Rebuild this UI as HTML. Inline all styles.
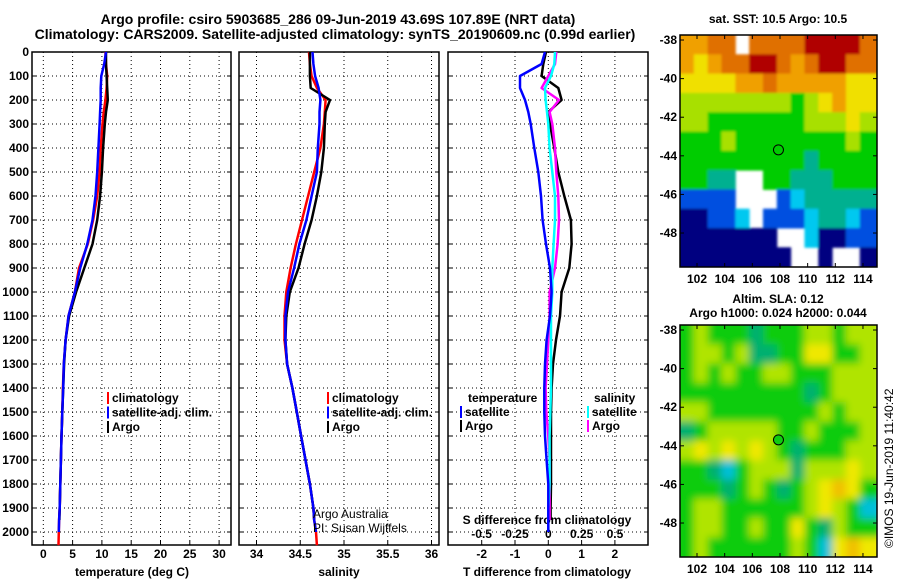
<!DOCTYPE html>
<html><head><meta charset="utf-8"><style>
html,body{margin:0;padding:0;background:#fff;}
svg{display:block;font-family:"Liberation Sans",Arial,sans-serif;font-weight:bold;}
text{font-size:12px;fill:#000;}
</style></head><body>
<svg id="fig" width="900" height="580" viewBox="0 0 900 580" xmlns="http://www.w3.org/2000/svg">
<defs>
<filter id="blur" x="-5%" y="-5%" width="110%" height="110%"><feGaussianBlur stdDeviation="4"/></filter>
<filter id="blur2" x="-5%" y="-5%" width="110%" height="110%"><feGaussianBlur stdDeviation="1.2"/></filter>
<clipPath id="clip1"><rect x="680" y="35" width="197" height="232"/></clipPath>
<clipPath id="clip2"><rect x="680" y="325" width="197" height="232"/></clipPath>
</defs>
<text x="338" y="24" text-anchor="middle" style="font-size:14px">Argo profile: csiro 5903685_286 09-Jun-2019 43.69S 107.89E (NRT data)</text>
<text x="335" y="39" text-anchor="middle" style="font-size:14px">Climatology: CARS2009. Satellite-adjusted climatology: synTS_20190609.nc (0.99d earlier)</text>
<text x="778" y="23" text-anchor="middle">sat. SST: 10.5 Argo: 10.5</text>
<text x="778" y="303" text-anchor="middle">Altim. SLA: 0.12</text>
<text x="778" y="317" text-anchor="middle">Argo h1000: 0.024 h2000: 0.044</text>
<text transform="translate(893,548) rotate(-90)" style="font-weight:normal;font-size:12px">©IMOS 19-Jun-2019 11:40:42</text>
<g id="g"></g>
</svg>
<script>
// ---- data ----
const depths=[0,50,100,150,200,250,300,400,500,600,700,800,900,1000,1100,1200,1300,1400,1500,1600,1700,1800,1900,1950,2000,2055];
const tempArgo=[10.7,10.7,10.8,10.9,11.0,10.7,10.5,10.2,10.0,9.7,9.2,8.4,7.0,5.6,4.4,3.8,3.55,3.4,3.25,3.1,3.0,2.9,2.8,2.75,null,null];
const tempClim=[10.6,10.7,10.9,10.8,10.6,10.3,10.1,9.8,9.6,9.2,8.5,7.6,6.1,5.4,4.3,3.8,3.5,3.35,3.25,3.1,3.0,2.9,2.8,2.7,2.65,2.6];
const tempSat=[10.7,10.4,9.9,9.8,9.8,9.7,9.6,9.4,9.2,8.9,8.4,7.5,6.3,5.4,4.3,3.8,3.5,3.4,3.25,3.1,3.0,2.9,2.8,2.7,2.65,null];
const salArgo=[34.61,34.61,34.61,34.62,34.84,34.79,34.78,34.77,34.74,34.69,34.63,34.55,34.48,34.38,34.34,34.33,34.35,34.41,34.46,34.51,34.56,34.61,34.65,34.66,null,null];
const salClim=[34.60,34.61,34.63,34.69,34.79,34.78,34.77,34.73,34.66,34.59,34.52,34.45,34.39,34.34,34.32,34.32,34.35,34.41,34.46,34.51,34.56,34.61,34.65,34.66,34.68,34.69];
const salSat=[34.64,34.65,34.67,34.71,34.73,34.72,34.72,34.70,34.69,34.63,34.57,34.49,34.43,34.36,34.33,34.33,34.35,34.41,34.46,34.51,34.56,34.61,34.65,34.66,34.68,null];
const dTArgo=[-0.07,-0.15,-0.2,0.3,0.4,0.0,0.05,0.18,0.3,0.48,0.68,0.7,0.63,0.4,0.35,0.23,0.14,0.1,0.08,0.08,0.08,0.08,0.07,0.07,null,null];
const dTSat=[-0.1,-0.2,-0.85,-0.85,-0.7,-0.6,-0.53,-0.42,-0.3,-0.22,-0.17,-0.07,0.05,0.1,0.05,-0.05,-0.1,-0.12,-0.12,-0.1,-0.05,0,0,0,0,null];
const dSArgo=[0.06,0.05,0.0,-0.05,0.08,0.01,0.03,0.05,0.06,0.075,0.08,0.07,0.05,0.01,0.01,0,-0.01,-0.02,-0.015,0.0,0.01,0.01,0.01,0.01,null,null];
const dSSat=[0.05,0.045,0.02,-0.025,-0.02,-0.01,0,0.01,0.03,0.05,0.05,0.04,0.03,0.03,0.02,0.02,0.02,0.02,0.015,0.01,0.01,0.01,0.0,0.0,0.0,null];
const depthTicks=[0,100,200,300,400,500,600,700,800,900,1000,1100,1200,1300,1400,1500,1600,1700,1800,1900,2000];
const tempTicks=[0,5,10,15,20,25,30];
const salTicks=[34,34.5,35,35.5,36];
const salTickLabels=["34","34.5","35","35.5","36"];
const dTTicks=[-2,-1,0,1,2];
const dSTicks=[-0.5,-0.25,0,0.25,0.5];
const dSTickLabels=["-0.5","-0.25","0","0.25","0.5"];
const latTicks=[-38,-40,-42,-44,-46,-48];
const lonTicks=[102,104,106,108,110,112,114];
const argoLon=107.89, argoLat=-43.69;
// SST map: level codes (-1 = no data), rows from north (-37.74) to south, 1 deg each, cols from 100.77E
const sstGrid=[
[7,7,8,8,-1,8,8,8,8,9,9,9,9,8],
[7,6,7,8,8,9,9,8,7,8,9,9,8,8],
[6,6,6,6,7,7,8,7,7,7,7,7,6,6],
[5,5,5,5,5,5,5,5,4,5,6,7,6,6],
[5,5,4,4,4,4,4,4,4,5,5,5,6,5],
[4,4,4,5,4,4,4,4,4,4,4,4,5,4],
[4,4,4,4,4,4,4,4,4,3,4,4,4,4],
[4,4,3,3,-1,-1,4,4,3,3,3,4,4,4],
[1,1,1,1,-1,-1,-1,1,2,3,3,3,3,3],
[0,0,1,1,2,-1,1,1,1,2,3,3,2,1],
[0,0,0,0,0,0,0,-1,-1,2,0,0,1,1],
[0,0,0,0,0,0,0,0,-1,-1,0,-1,-1,0]];
const slaGrid=[
[2,3,2,2,2,1,2,2,2,3,3,2,3,3],
[2,3,3,2,3,1,1,2,2,4,4,2,2,3],
[2,3,2,3,2,2,3,3,2,2,2,3,3,3],
[2,2,2,2,2,2,2,2,2,1,2,3,3,3],
[3,3,2,2,2,2,2,2,2,2,3,2,3,3],
[1,2,3,3,3,3,3,2,2,3,2,2,2,3],
[3,4,3,4,3,4,3,2,1,2,2,2,3,3],
[2,2,1,0,2,3,3,3,1,3,3,3,4,3],
[2,2,2,1,2,3,2,1,2,3,4,5,4,2],
[2,3,3,2,2,2,2,2,2,3,4,3,2,0],
[2,3,3,2,2,3,2,2,4,2,1,3,2,2],
[2,3,2,2,2,2,2,2,3,2,0,4,5,4]];
const sstColors=["#000080","#0050e0","#00c8f0","#00b090","#00cc00","#a8e000","#f0e000","#f0a000","#e07000","#b00000"];
const slaColors=["#00c0d8","#00b070","#10cc10","#b0e400","#f0e800","#f0c000"];

const NS="http://www.w3.org/2000/svg";
const G=document.getElementById('g');
function el(tag,attrs,parent){const e=document.createElementNS(NS,tag);for(const k in attrs)e.setAttribute(k,attrs[k]);(parent||G).appendChild(e);return e;}
function txt(x,y,s,anchor,parent,size){const t=el('text',{x:x,y:y,'text-anchor':anchor||'middle'},parent);if(size)t.style.fontSize=size+'px';t.textContent=s;return t;}

const plotTop=52,plotBot=545;
const yD=d=>plotTop+d*0.24;
const panels=[
 {l:32,r:231,x:v=>43.3+v*5.86,name:'temperature-panel'},
 {l:239,r:439,x:v=>256.5+(v-34)*87.5,name:'salinity-panel'},
 {l:448,r:648,x:v=>548.3+v*33.3,name:'difference-panel'}];
const xS=v=>548.3+v*133.3;

panels.forEach((p,i)=>{
  const g=el('g',{});
  
  
  depthTicks.forEach(d=>{
    const l=el('line',{x1:p.l,x2:p.r,y1:yD(d),y2:yD(d),stroke:'#000','stroke-width':1,'stroke-dasharray':'1,3'},g);
    
    
    el('line',{x1:p.l,x2:p.l+4,y1:yD(d),y2:yD(d),stroke:'#000'},g);
    el('line',{x1:p.r-4,x2:p.r,y1:yD(d),y2:yD(d),stroke:'#000'},g);
  });
  const xt=i==0?tempTicks:(i==1?salTicks:dTTicks);
  xt.forEach((v,k)=>{
    const x=p.x(v);
    const l=el('line',{x1:x,x2:x,y1:plotTop,y2:plotBot,stroke:'#000','stroke-dasharray':'1,3'},g);
    
    
    el('line',{x1:x,x2:x,y1:plotBot-4,y2:plotBot,stroke:'#000'},g);
    const lab=i==1?salTickLabels[k]:String(v);
    const t=txt(x,558,lab,'middle',g);
    
    
  });
  el('rect',{x:p.l,y:plotTop,width:p.r-p.l,height:plotBot-plotTop,fill:'none',stroke:'#000','stroke-width':1.5},g);
});
depthTicks.forEach(d=>{
  const t=txt(29,yD(d)+4,String(d),'end');
  
  
});
[[132,'temperature (deg C)','temperature-axis-title'],[339,'salinity','salinity-axis-title'],[547,'T difference from climatology','t-diff-axis-title']].forEach(a=>{
  const t=txt(a[0],576,a[1]);
  
  
});
let t=txt(547,524,'S difference from climatology');


dSTicks.forEach((v,k)=>{
  const tt=txt(xS(v),538,dSTickLabels[k]);
  
  
});

function series(vals,xf,color,name,w){
  let d='',pen=false;
  vals.forEach((v,k)=>{
    if(v===null||v===undefined){pen=false;return;}
    d+=(pen?'L':'M')+xf(v).toFixed(1)+','+yD(depths[k]).toFixed(1);pen=true;
  });
  const p=el('path',{d:d,fill:'none',stroke:color,'stroke-width':w||2.5,'stroke-linejoin':'round'});
  
  
}
series(tempClim,panels[0].x,'#f00','temp-climatology-line');
series(tempArgo,panels[0].x,'#000','temp-argo-line');
series(tempSat,panels[0].x,'#00f','temp-satellite-line');
series(salClim,panels[1].x,'#f00','salinity-climatology-line');
series(salArgo,panels[1].x,'#000','salinity-argo-line');
series(salSat,panels[1].x,'#00f','salinity-satellite-line');
series(dTArgo,panels[2].x,'#000','t-diff-argo-line');
series(dSArgo,xS,'#f0f','s-diff-argo-line');
series(dSSat,xS,'#0ff','s-diff-satellite-line');
series(dTSat,panels[2].x,'#00f','t-diff-satellite-line');

function legend(x,y,color,label,name){
  const g=el('g',{});
  
  
  el('rect',{x:x,y:y-10,width:2,height:12,fill:color},g);
  txt(x+5,y,label,'start',g);
}
[[0,'#f00','climatology'],[1,'#00f','satellite-adj. clim.'],[2,'#000','Argo']].forEach(a=>{
  legend(107,402+a[0]*14.5,a[1],a[2],'temp-legend-entry');
  legend(327,402+a[0]*14.5,a[1],a[2],'salinity-legend-entry');
});
t=txt(468,402,'temperature','start');
t=txt(594,402,'salinity','start');
legend(460,416,'#00f','satellite','diff-legend-temp-satellite');
legend(460,430,'#000','Argo','diff-legend-temp-argo');
legend(587,416,'#0ff','satellite','diff-legend-sal-satellite');
legend(587,430,'#f0f','Argo','diff-legend-sal-argo');
t=txt(313,518,'Argo Australia','start');t.style.fontWeight='normal';
t=txt(313,532,'PI: Susan Wijffels','start');t.style.fontWeight='normal';

const mL=680,mR=877,lon0=100.77,lat0=-37.74,pxLon=13.83,pxLat=19.3;
function drawMap(top0,grid,colors,name,dotFill,filt,clip){
  const g=el('g',{});
  
  
  const mx=lon=>mL+(lon-lon0)*pxLon, my=lat=>top0+(lat0-lat)*pxLat;
  const bottom=top0+232;
  const cg0=el('g',{'clip-path':'url(#'+clip+')'},g);
  const cg=el('g',{filter:'url(#'+filt+')'},cg0);
  grid.forEach((row,r)=>row.forEach((v,c)=>{
    if(v<0)return;
    const x0=mx(lon0+c),x1=mx(lon0+c+1),y0=my(lat0-r),y1=my(lat0-r-1);
    const cell=el('rect',{x:x0-(c==0?8:0),y:y0-(r==0?8:0),width:x1-x0+0.5+(c==0||c==row.length-1?8:0),height:y1-y0+0.5+(r==0||r==grid.length-1?8:0),fill:colors[v]},cg);
    
    
  }));
  el('rect',{x:mL,y:top0,width:mR-mL,height:bottom-top0,fill:'none',stroke:'#000','stroke-width':1.5},g);
  latTicks.forEach(l=>{
    const y=my(l);
    el('line',{x1:mL,x2:mL+4,y1:y,y2:y,stroke:'#000'},g);
    el('line',{x1:mR-4,x2:mR,y1:y,y2:y,stroke:'#000'},g);
    const tt=txt(677,y+4,String(l),'end',g);
    
    
  });
  lonTicks.forEach(l=>{
    const x=mx(l);
    el('line',{x1:x,x2:x,y1:bottom-4,y2:bottom,stroke:'#000'},g);
    el('line',{x1:x,x2:x,y1:top0,y2:top0+4,stroke:'#000'},g);
    const tt=txt(x,bottom+16,String(l),'middle',g);
    
    
  });
  const c=el('circle',{cx:mx(argoLon),cy:my(argoLat),r:5,fill:dotFill,stroke:'#000','stroke-width':1},g);
  
  
}
drawMap(35,sstGrid,sstColors,'sst-map','none','blur2','clip1');
drawMap(325,slaGrid,slaColors,'sla-map','#10cc10','blur','clip2');
</script>
</body></html>
